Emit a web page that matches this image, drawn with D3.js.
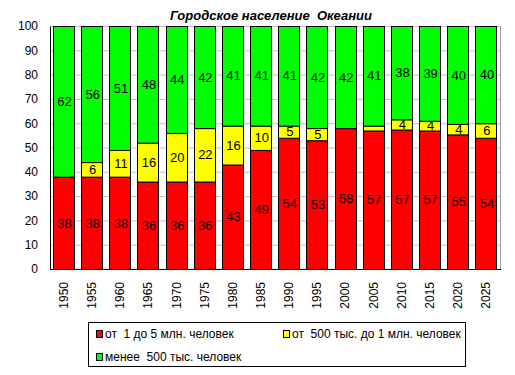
<!DOCTYPE html>
<html>
<head>
<meta charset="utf-8">
<script src="https://cdnjs.cloudflare.com/ajax/libs/d3/7.8.5/d3.min.js"></script>
<style>
  body { margin: 0; background: #fff; }
  text { font-family: Arial, "Liberation Sans", sans-serif; white-space: pre; }
</style>
</head>
<body>
<script>
// data (percent of urban population)
const years = ["1950","1955","1960","1965","1970","1975","1980","1985","1990","1995","2000","2005","2010","2015","2020","2025"];
const big = [38, 38, 38, 36, 36, 36, 43, 49, 54, 53, 58, 57, 57.4, 57, 55.4, 54];
const mid = [0, 6, 11, 16, 20, 22, 16, 10, 5, 5, 0, 2, 4.2, 4, 4.3, 6];
const small = [62, 56, 51, 48, 44, 42, 41, 41, 41, 42, 42, 41, 38.4, 39, 40.3, 40];
const seriesNames = ["от  1 до 5 млн. человек", "от  500 тыс. до 1 млн. человек", "менее  500 тыс. человек"];
const colors = ["#ff0000", "#ffff00", "#00ff00"];
const yTicks = [0, 10, 20, 30, 40, 50, 60, 70, 80, 90, 100];

const W = 515, H = 375;
const plot = { left: 50, right: 500, top: 26, bottom: 269 };

const svg = d3.select("body").append("svg")
  .attr("width", W).attr("height", H);

const x = d3.scaleBand(years, [plot.left - 0.5, plot.right]).paddingInner(0.25).paddingOuter(0.125);
const y = d3.scaleLinear([0, 100], [plot.bottom, plot.top]);

// gridlines
svg.append("g")
  .selectAll("line")
  .data(yTicks.filter(d => d > 0))
  .join("line")
  .attr("x1", plot.left).attr("x2", plot.right)
  .attr("y1", d => y(d) + 0.5).attr("y2", d => y(d) + 0.5)
  .attr("stroke", "#bfbfbf");

// right border
svg.append("line")
  .attr("x1", plot.right + 0.5).attr("x2", plot.right + 0.5)
  .attr("y1", plot.top).attr("y2", plot.bottom)
  .attr("stroke", "#a0a0a0");

// stacked data
const rows = years.map((yr, i) => ({ year: yr, a: big[i], b: mid[i], c: small[i] }));
const stack = d3.stack().keys(["a", "b", "c"])(rows);

const groups = svg.append("g").selectAll("g")
  .data(stack)
  .join("g")
  .attr("fill", (d, i) => colors[i]);

groups.selectAll("rect")
  .data(d => d.filter(p => p[1] - p[0] > 0))
  .join("rect")
  .attr("x", d => Math.round(x(d.data.year)) + 0.5)
  .attr("width", Math.round(x.bandwidth()))
  .attr("y", d => y(d[1]) + 0.5)
  .attr("height", d => y(d[0]) - y(d[1]))
  .attr("stroke", "#000")
  .attr("stroke-width", 1);

// value labels
groups.selectAll("text")
  .data(d => d.filter(p => p[1] - p[0] >= 3.5))
  .join("text")
  .attr("x", d => x(d.data.year) + x.bandwidth() / 2 + 1)
  .attr("y", d => y((d[0] + d[1]) / 2))
  .attr("dy", "0.36em")
  .attr("text-anchor", "middle")
  .attr("fill", "#000")
  .style("font-size", "13px")
  .text(d => Math.round(d[1] - d[0]));

// y axis
const yAxis = svg.append("g")
  .attr("transform", `translate(${plot.left},0)`)
  .call(d3.axisLeft(y).tickValues(yTicks).tickSize(0).tickPadding(12));
yAxis.select(".domain").attr("stroke", "#000");
yAxis.selectAll("text").style("font-size", "12px").attr("fill", "#000")
  .style("font-family", "Arial, 'Liberation Sans', sans-serif");

// x axis
const xAxis = svg.append("g")
  .attr("transform", `translate(0,${plot.bottom})`)
  .call(d3.axisBottom(x).tickSize(0).tickPadding(0));
xAxis.select(".domain").attr("stroke", "#000").attr("d", `M${plot.left},0.5H${plot.right + 1}`);
xAxis.selectAll("text")
  .attr("transform", "rotate(-90)")
  .attr("text-anchor", "end")
  .attr("x", -13)
  .attr("y", 0)
  .attr("dx", 0)
  .attr("dy", "0.36em")
  .attr("fill", "#000")
  .style("font-size", "12px")
  .style("font-family", "Arial, 'Liberation Sans', sans-serif");

// title
svg.append("text")
  .attr("x", 271).attr("y", 20)
  .attr("text-anchor", "middle")
  .style("font-size", "13px")
  .style("font-weight", "bold")
  .style("font-style", "italic")
  .text("Городское население  Океании");

// legend
const legend = svg.append("g");
legend.append("rect")
  .attr("x", 88.5).attr("y", 322.5)
  .attr("width", 377).attr("height", 44)
  .attr("fill", "#fff").attr("stroke", "#000");

const legendPos = [[96, 334], [283, 334], [96, 357]];
seriesNames.forEach((name, i) => {
  const g = legend.append("g").attr("transform", `translate(${legendPos[i][0]},${legendPos[i][1]})`);
  g.append("rect")
    .attr("x", 0.5).attr("y", -3.5)
    .attr("width", 6).attr("height", 7)
    .attr("fill", colors[i]).attr("stroke", "#000");
  g.append("text")
    .attr("x", 9).attr("dy", "0.36em")
    .style("font-size", "12px")
    .text(name);
});
</script>
</body>
</html>
